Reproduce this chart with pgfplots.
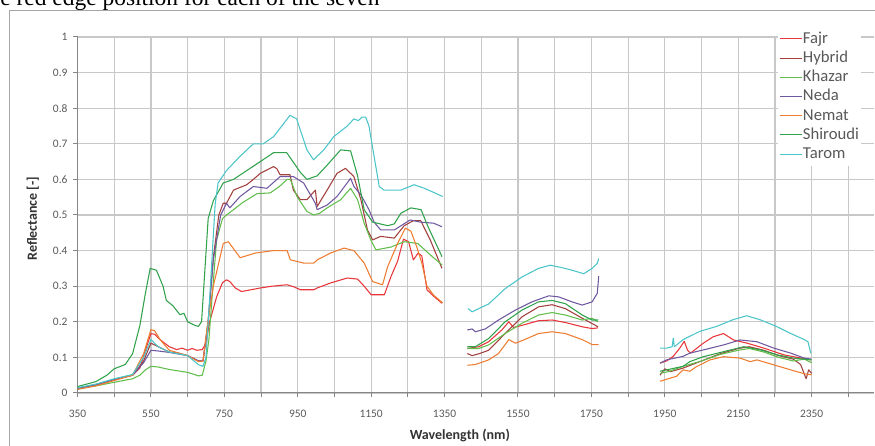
\documentclass[border=0pt]{standalone}
\usepackage{pgfplots}
\pgfplotsset{compat=1.18}
\usepackage{fontspec}
\setmainfont{Carlito}
\newfontfamily\timesfont{Liberation Serif}

\definecolor{cFajr}{HTML}{E8363A}
\definecolor{cHybrid}{HTML}{A2403E}
\definecolor{cKhazar}{HTML}{62BE4C}
\definecolor{cNeda}{HTML}{7058A0}
\definecolor{cNemat}{HTML}{EE7D31}
\definecolor{cShiroudi}{HTML}{31A24C}
\definecolor{cTarom}{HTML}{4CC5C9}
\definecolor{txtgray}{HTML}{595959}
\definecolor{axgray}{HTML}{868686}
\definecolor{gridgray}{HTML}{C8C8C8}

\begin{document}
\begin{tikzpicture}[x=0.75pt,y=0.75pt]
\useasboundingbox (0,0) rectangle (875,446);
% cropped text of the page above the chart
\node[anchor=base west,inner sep=0pt,font=\timesfont\fontsize{17.6}{20}\selectfont] at (0,440.5) {e red edge position for each of the seven};
% chart area frame
\draw[black!35,line width=0.75pt] (9,-5) -- (9,435) -- (890,435);

\begin{axis}[
  at={(58.125pt,39.75pt)}, anchor=south west,
  scale only axis,
  width=597.4pt, height=267pt,
  xmin=350, xmax=2520, ymin=0, ymax=1,
  axis x line*=bottom, axis y line*=left,
  axis line style={axgray,line width=0.75pt,-},
  tick align=outside,
  major tick length=3pt,
  tick style={axgray,line width=0.75pt},
  xtick={350,450,...,2450},
  xticklabels={350,,550,,750,,950,,1150,,1350,,1550,,1750,,1950,,2150,,2350,},
  ytick={0,0.1,...,1.0},
  yticklabels={0,0.1,0.2,0.3,0.4,0.5,0.6,0.7,0.8,0.9,1},
  xmajorgrids, ymajorgrids,
  grid style={gridgray,line width=0.9pt},
  /pgf/number format/assume math mode=true,
  tick label style={font=\fontsize{8.6}{10}\selectfont,text=txtgray},
  xticklabel style={yshift=-6pt},
  yticklabel style={xshift=-1pt},
  xlabel={\textbf{Wavelength (nm)}},
  ylabel={\textbf{Reflectance [-]}},
  label style={font=\fontsize{10.5}{12}\selectfont,text=black!80},
  xlabel style={at={(axis description cs:0.48,-0.12)},anchor=center},
  ylabel style={at={(axis description cs:-0.056,0.49)},anchor=center,rotate=0},
  unbounded coords=jump,
  every axis plot/.append style={line width=0.8pt,line join=round},
  legend cell align=left,
  legend image code/.code={\draw[#1] (0pt,0pt) -- (16.5pt,0pt);},
  legend style={at={(axis description cs:0.879,1.03)},anchor=north west,
    draw=none,fill=white,inner xsep=1pt,inner ysep=2pt,row sep=0pt,
    font=\fontsize{12.5}{14}\selectfont,text=txtgray,
    nodes={inner xsep=0.5pt,inner ysep=1.3pt,text height=9.2pt,text depth=2.6pt}},
]

\addplot[cFajr] table {
350 0.012
400 0.022
450 0.038
500 0.05
520 0.07
535 0.12
550 0.167
560 0.165
575 0.15
600 0.13
620 0.122
635 0.126
650 0.12
662 0.125
675 0.12
690 0.122
700 0.14
710 0.2
729 0.27
745 0.31
756 0.318
765 0.313
780 0.295
797 0.285
848 0.295
880 0.3
921 0.304
940 0.298
957 0.29
994 0.29
1003 0.295
1039 0.309
1085 0.323
1113 0.32
1131 0.3
1150 0.276
1186 0.276
1204 0.327
1222 0.37
1238 0.432
1252 0.425
1265 0.374
1278 0.393
1288 0.385
1302 0.29
1320 0.272
1343 0.252
1380 nan
1412 0.125
1443 0.13
1470 0.144
1506 0.177
1525 0.2
1538 0.184
1561 0.19
1606 0.203
1643 0.205
1679 0.198
1725 0.186
1752 0.181
1768 0.183
1850 nan
1937 0.084
1955 0.09
1973 0.103
1990 0.125
2003 0.145
2012 0.12
2020 0.112
2055 0.14
2082 0.158
2110 0.167
2137 0.149
2174 0.14
2220 0.126
2275 0.107
2321 0.098
2348 0.093
};
\addlegendentry{Fajr}

\addplot[cHybrid] table {
350 0.013
400 0.024
450 0.038
500 0.05
530 0.09
550 0.14
570 0.13
600 0.115
625 0.112
650 0.105
680 0.09
692 0.09
706 0.2
720 0.38
735 0.5
747 0.533
756 0.533
775 0.57
811 0.585
829 0.6
848 0.617
884 0.636
893 0.63
902 0.613
929 0.613
938 0.57
957 0.543
975 0.543
998 0.57
1003 0.524
1030 0.57
1057 0.617
1080 0.631
1103 0.608
1122 0.543
1140 0.458
1154 0.43
1176 0.44
1213 0.435
1240 0.47
1265 0.484
1285 0.484
1311 0.43
1343 0.35
1380 nan
1412 0.111
1425 0.105
1443 0.11
1470 0.12
1515 0.167
1561 0.214
1606 0.242
1643 0.248
1679 0.237
1725 0.21
1752 0.195
1768 0.186
1850 nan
1937 0.05
1950 0.068
1965 0.06
2000 0.07
2050 0.09
2100 0.11
2150 0.125
2180 0.13
2220 0.12
2260 0.105
2300 0.095
2320 0.08
2335 0.04
2342 0.065
2350 0.055
};
\addlegendentry{Hybrid}

\addplot[cKhazar] table {
350 0.012
400 0.02
450 0.03
500 0.04
520 0.05
535 0.065
550 0.075
570 0.073
600 0.066
650 0.058
680 0.048
690 0.05
700 0.09
708 0.15
716 0.26
729 0.43
745 0.49
756 0.5
775 0.515
800 0.535
839 0.56
875 0.562
900 0.58
921 0.6
930 0.6
948 0.552
975 0.51
994 0.5
1010 0.505
1030 0.52
1067 0.543
1094 0.575
1113 0.543
1131 0.477
1149 0.43
1163 0.402
1204 0.41
1240 0.425
1277 0.42
1311 0.388
1343 0.36
1380 nan
1412 0.125
1443 0.125
1470 0.135
1515 0.167
1561 0.196
1606 0.219
1643 0.226
1679 0.219
1725 0.205
1752 0.21
1768 0.2
1850 nan
1937 0.055
1960 0.06
2000 0.075
2050 0.09
2100 0.108
2150 0.12
2180 0.125
2220 0.115
2260 0.1
2300 0.09
2330 0.095
2350 0.085
};
\addlegendentry{Khazar}

\addplot[cNeda] table {
350 0.013
400 0.023
450 0.038
500 0.05
530 0.085
550 0.12
570 0.118
600 0.114
650 0.105
680 0.09
692 0.09
706 0.2
720 0.374
740 0.5
756 0.533
765 0.52
793 0.552
829 0.58
866 0.575
902 0.608
938 0.608
966 0.59
998 0.533
1003 0.515
1030 0.528
1057 0.552
1094 0.603
1103 0.58
1122 0.557
1144 0.515
1158 0.48
1176 0.458
1213 0.458
1256 0.486
1284 0.48
1320 0.477
1343 0.467
1380 nan
1412 0.177
1425 0.18
1434 0.172
1461 0.18
1497 0.205
1543 0.233
1588 0.256
1634 0.273
1661 0.27
1697 0.256
1725 0.247
1752 0.256
1766 0.28
1770 0.328
1850 nan
1937 0.084
1955 0.093
2000 0.103
2018 0.112
2055 0.121
2110 0.135
2155 0.149
2201 0.144
2247 0.126
2293 0.112
2330 0.098
2350 0.095
};
\addlegendentry{Neda}

\addplot[cNemat] table {
350 0.01
400 0.02
450 0.035
500 0.05
530 0.11
550 0.178
560 0.175
575 0.15
600 0.12
650 0.105
680 0.088
692 0.09
705 0.2
720 0.3
747 0.42
761 0.425
793 0.38
834 0.393
884 0.4
921 0.4
930 0.374
966 0.365
994 0.365
1003 0.374
1039 0.393
1076 0.407
1103 0.4
1131 0.365
1154 0.313
1181 0.304
1195 0.355
1222 0.42
1243 0.463
1258 0.455
1274 0.411
1288 0.365
1302 0.3
1320 0.275
1345 0.253
1380 nan
1412 0.078
1434 0.08
1470 0.093
1497 0.111
1525 0.15
1543 0.14
1561 0.147
1606 0.167
1643 0.172
1679 0.167
1725 0.15
1752 0.136
1770 0.136
1850 nan
1937 0.033
1982 0.047
2000 0.065
2018 0.061
2036 0.074
2073 0.093
2110 0.102
2155 0.098
2183 0.088
2201 0.093
2247 0.079
2293 0.065
2330 0.054
2350 0.051
};
\addlegendentry{Nemat}

\addplot[cShiroudi] table {
350 0.018
400 0.032
430 0.05
450 0.068
480 0.08
500 0.11
520 0.19
535 0.28
548 0.35
565 0.345
583 0.3
592 0.26
610 0.245
629 0.22
640 0.224
650 0.2
670 0.19
679 0.187
688 0.2
697 0.345
706 0.49
720 0.54
747 0.59
775 0.6
848 0.65
884 0.675
920 0.675
957 0.62
975 0.6
1003 0.61
1030 0.64
1067 0.683
1094 0.68
1113 0.61
1131 0.515
1154 0.48
1195 0.47
1213 0.475
1231 0.505
1258 0.52
1286 0.515
1305 0.467
1343 0.383
1380 nan
1412 0.13
1434 0.13
1470 0.153
1515 0.2
1561 0.233
1606 0.256
1643 0.26
1679 0.251
1725 0.219
1752 0.205
1768 0.205
1850 nan
1937 0.061
2000 0.075
2018 0.088
2055 0.102
2110 0.116
2165 0.13
2211 0.121
2257 0.107
2300 0.098
2350 0.093
};
\addlegendentry{Shiroudi}

\addplot[cTarom] table {
350 0.015
400 0.025
450 0.04
500 0.052
530 0.1
550 0.15
570 0.13
600 0.115
650 0.105
680 0.079
692 0.075
700 0.1
712 0.3
725 0.53
733 0.59
756 0.625
793 0.665
829 0.7
856 0.7
884 0.72
929 0.78
947 0.77
975 0.683
993 0.655
1021 0.683
1048 0.72
1085 0.75
1103 0.77
1115 0.765
1125 0.775
1135 0.775
1144 0.75
1158 0.665
1172 0.58
1185 0.57
1231 0.57
1267 0.585
1295 0.575
1345 0.552
1380 nan
1414 0.237
1425 0.228
1443 0.237
1470 0.25
1515 0.293
1561 0.326
1606 0.35
1638 0.359
1670 0.352
1697 0.345
1729 0.335
1752 0.35
1766 0.364
1770 0.378
1850 nan
1937 0.126
1955 0.126
1970 0.13
1973 0.154
1976 0.13
2000 0.15
2045 0.173
2091 0.187
2136 0.206
2173 0.217
2209 0.206
2254 0.187
2291 0.168
2330 0.15
2340 0.144
2348 0.111
};
\addlegendentry{Tarom}

\end{axis}
\end{tikzpicture}
\end{document}
